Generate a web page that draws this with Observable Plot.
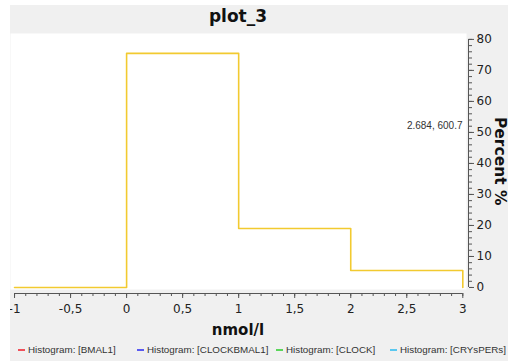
<!DOCTYPE html>
<html>
<head>
<meta charset="utf-8">
<script src="https://cdn.jsdelivr.net/npm/d3@7"></script>
<script src="https://cdn.jsdelivr.net/npm/@observablehq/plot@0.6"></script>
<style>
  html, body { margin: 0; padding: 0; background: #fff; }
  #panel { position: absolute; left: 10px; top: 5px; width: 498px; height: 356px; background: #f0f0f0; overflow: hidden; }
  #page { position: absolute; left: -10px; top: -5px; width: 508px; height: 361px; }
  #chart { position: absolute; left: 0; top: 0; }
  #title { position: absolute; left: 0; top: 6px; width: 476px; text-align: center;
           font: bold 17px/20px "DejaVu Sans", sans-serif; color: #111; }
  #xlabel { position: absolute; left: 0; top: 321px; width: 476px; text-align: center;
            font: bold 15px/18px "DejaVu Sans", sans-serif; color: #111; }
  #ylabel { position: absolute; left: 491px; top: 117px; writing-mode: vertical-rl;
            font: bold 15.5px/18px "DejaVu Sans", sans-serif; color: #111; white-space: nowrap; }
  #legend { position: absolute; left: 0; top: 343px; width: 508px; height: 14px;
            font: 9.8px/14px "Liberation Sans", Arial, sans-serif; color: #333; white-space: nowrap; }
  .item { position: absolute; top: 0; display: flex; align-items: center; }
  .item:nth-child(1) { left: 18px; }
  .item:nth-child(2) { left: 137px; }
  .item:nth-child(3) { left: 276px; }
  .item:nth-child(4) { left: 390px; }
  .swatch { display: inline-block; width: 7px; height: 2px; margin-right: 3px; }
</style>
</head>
<body>
<div id="panel">
  <div id="page">
    <div id="title"></div>
    <div id="chart"></div>
    <div id="xlabel"></div>
    <div id="ylabel"></div>
    <div id="legend"></div>
  </div>
</div>
<script>
// Histogram bins (nmol/l) and the share of samples in each bin (%)
const binStarts = [-1, 0, 1, 2];
const binEnd = 3;
const percents = [0, 75.5, 19, 5.5];

// Axis ticks
const majorX = [-1, -0.5, 0, 0.5, 1, 1.5, 2, 2.5, 3];
const minorX = d3.range(-10, 31).map(i => i / 10);
const majorY = [0, 10, 20, 30, 40, 50, 60, 70, 80];
const minorY = d3.range(0, 81, 2);

// Series shown in the legend
const seriesNames = ["Histogram: [BMAL1]", "Histogram: [CLOCKBMAL1]", "Histogram: [CLOCK]", "Histogram: [CRYsPERs]"];
const seriesColors = ["#f0505a", "#5a5af0", "#5ad65a", "#5ac8f0"];

const titleText = "plot_3";
const xLabel = "nmol/l";
const yLabel = "Percent %";
const cursorText = "2.684, 600.7";

// Step outline: each bin holds its value until the next edge, then drops to 0 at the end
const steps = binStarts.map((x, i) => ({x, y: percents[i]}));
steps.push({x: binEnd, y: 0});

const xDomain = [-1.036, 3.033];
const yDomain = [-0.65, 81.9];
const axisColor = "#555";
const fmt = d => String(d).replace(".", ",");
const blank = () => "";

const chart = Plot.plot({
  width: 508,
  height: 361,
  marginLeft: 10,
  marginRight: 42,
  marginTop: 33,
  marginBottom: 72,
  x: {domain: xDomain},
  y: {domain: yDomain},
  style: {background: "transparent", fontFamily: "DejaVu Sans, sans-serif", fontSize: "12px", color: "#222"},
  marks: [
    Plot.frame({fill: "white", stroke: null}),
    Plot.line(steps, {x: "x", y: "y", curve: "step-after", stroke: "#f2ca30", strokeWidth: 1.6}),
    // bottom axis, offset below the plotting area
    Plot.ruleY([{y: yDomain[0], x1: majorX[0], x2: majorX[majorX.length - 1]}],
      {y: "y", x1: "x1", x2: "x2", dy: 4, stroke: axisColor}),
    Plot.axisX({ticks: minorX, tickSize: 3, tickFormat: blank, dy: 4, stroke: axisColor, label: null}),
    Plot.axisX({ticks: majorX, tickSize: 5, tickPadding: 6, dy: 4, tickFormat: fmt, stroke: axisColor, label: null}),
    // right axis, offset beside the plotting area
    Plot.ruleX([{x: xDomain[1], y1: majorY[0], y2: majorY[majorY.length - 1]}],
      {x: "x", y1: "y1", y2: "y2", dx: 2, stroke: axisColor}),
    Plot.axisY({anchor: "right", ticks: minorY, tickSize: 3, tickFormat: blank, dx: 2, stroke: axisColor, label: null}),
    Plot.axisY({anchor: "right", ticks: majorY, tickSize: 5, tickPadding: 3, dx: 2, stroke: axisColor, label: null}),
    Plot.text([cursorText], {text: d => d, frameAnchor: "right", dx: -4, dy: -36,
      fontFamily: "Liberation Sans, Arial, sans-serif", fontSize: 10, fill: "#333"})
  ]
});
document.getElementById("chart").append(chart);

document.getElementById("title").textContent = titleText;
document.getElementById("xlabel").textContent = xLabel;
document.getElementById("ylabel").textContent = yLabel;

const legend = document.getElementById("legend");
seriesNames.forEach((name, i) => {
  const item = document.createElement("span");
  item.className = "item";
  const sw = document.createElement("span");
  sw.className = "swatch";
  sw.style.background = seriesColors[i];
  item.append(sw, document.createTextNode(name));
  legend.append(item);
});
</script>
</body>
</html>
